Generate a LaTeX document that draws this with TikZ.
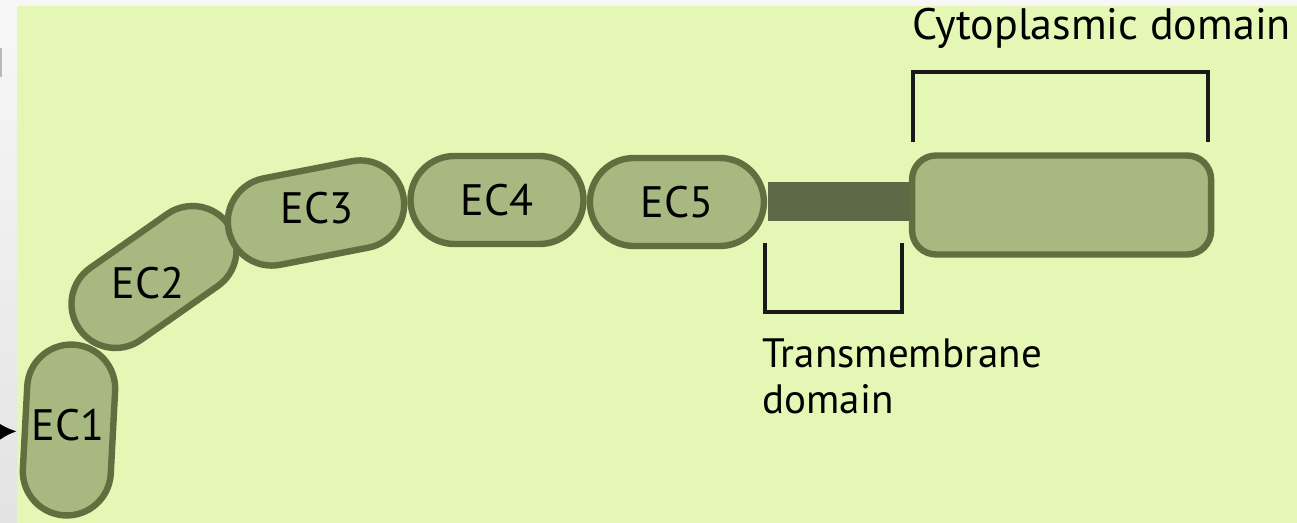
\documentclass[tikz,border=0pt]{standalone}
\usepackage{fontspec}
\setmainfont{PT Sans}
\usetikzlibrary{positioning,arrows.meta}

\definecolor{bggreen}{HTML}{E4F7B4}
\definecolor{ecfill}{HTML}{A8B881}
\definecolor{ecedge}{HTML}{5F6F3F}
\definecolor{tmfill}{HTML}{5E6A47}

\begin{document}
\begin{tikzpicture}[
    x=0.5pt, y=-0.5pt,
    font=\fontsize{22}{23}\selectfont,
    ecdom/.style={draw=ecedge, fill=ecfill, line width=3.2pt, inner sep=0pt,
                  minimum height=44pt, rounded corners=22pt},
    cytobox/.style={draw=ecedge, fill=ecfill, line width=3.2pt, inner sep=0pt,
                    minimum width=149.5pt, minimum height=49.5pt, rounded corners=12pt},
    tmbar/.style={fill=tmfill, inner sep=0pt, minimum width=74pt, minimum height=19.5pt},
    eclbl/.style={inner sep=0pt, text depth=0pt},
    lbl/.style={inner sep=0pt, align=left},
    brkt/.style={draw=black!90, line width=2pt},
    arr/.style={-{Latex[length=9pt, width=9pt]}, line width=1.4pt}
  ]

  % ========= frame: grey margin and green panel =========
  \useasboundingbox (0,0) rectangle (1297,523);
  \shade[top color=gray!6, bottom color=gray!22] (0,0) rectangle (1297,523);
  \fill[bggreen] (17,6) rectangle (1297,523);
  \fill[gray!55] (0,48) rectangle (2,77);

  % ========= extracellular repeats =========
  \node[ecdom, minimum width=85.5pt, rotate=87] (ec1) at (69,430) {};
  \node[ecdom, minimum width=91pt,   rotate=35] (ec2) at (154,277) {};
  \node[ecdom, minimum width=89pt,   rotate=11] (ec3) at (316,213) {};
  \node[ecdom, minimum width=86.5pt] (ec4) at (497,200) {};
  \node[ecdom, minimum width=87pt, right=0pt of ec4, yshift=-1pt] (ec5) {};

  \node[eclbl] (ec1txt) at (68,425)  {EC1};
  \node[eclbl] (ec2txt) at (148,283) {EC2};
  \node[eclbl] (ec3txt) at (317,208) {EC3};
  \node[eclbl] (ec4txt) at (ec4)     {EC4};
  \node[eclbl] (ec5txt) at (ec5)     {EC5};

  % ========= membrane span and tail =========
  \node[tmbar, right=0pt of ec5] (tm) {};
  \node[cytobox, right=-3.5pt of tm, yshift=-1.5pt] (cyto) {};

  % ========= brackets and captions =========
  \draw[brkt] (913,142) |- (1208,72) -- (1208,142);
  \node[lbl, anchor=base west] (cytolab) at (912,40) {Cytoplasmic domain};

  \draw[brkt] (765,243) |- (902,312) -- (902,243);
  \node[lbl, anchor=north west, font=\fontsize{20.5}{23}\selectfont]
    (tmlab) at (762,338) {Transmembrane\\domain};

  % pointer from the margin
  \coordinate (arrtail) at (-12,432);
  \draw[arr, shorten >=2.5pt] (arrtail) -- (ec1);

\end{tikzpicture}
\end{document}
